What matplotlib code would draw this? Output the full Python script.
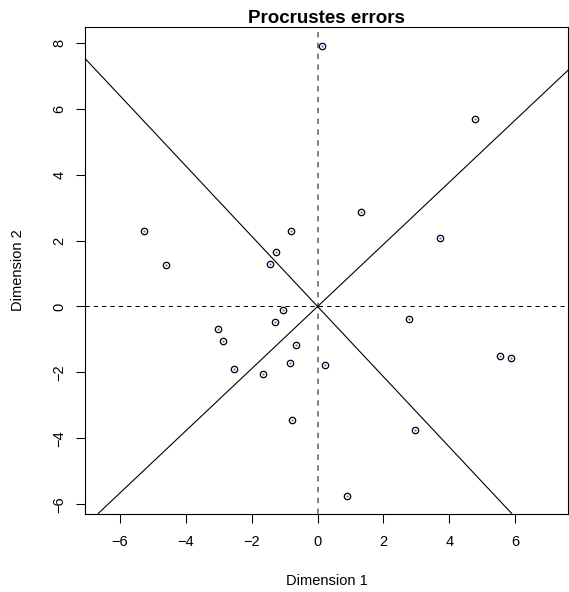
import matplotlib
matplotlib.use("Agg")
import matplotlib.pyplot as plt

plt.rcParams['font.family'] = ['Liberation Sans', 'DejaVu Sans']

# Data
dim1 = [-5.26, -4.61, -0.81, -1.26, -1.43, -1.04, -1.29, -3.03, -2.87, -0.66,
        -0.84, -2.55, -1.65, 0.12, 4.78, 1.33, 3.72, 2.78, 0.23, 5.54,
        5.88, -0.78, 2.95, 0.88]
dim2 = [2.29, 1.26, 2.29, 1.64, 1.29, -0.10, -0.46, -0.67, -1.06, -1.18,
        -1.72, -1.91, -2.05, 7.90, 5.68, 2.88, 2.09, -0.39, -1.78, -1.49,
        -1.57, -3.45, -3.75, -5.75]
axis_slopes = [0.943, -1.066]
xticks = [-6, -4, -2, 0, 2, 4, 6]
yticks = [-6, -4, -2, 0, 2, 4, 6, 8]

fig = plt.figure(figsize=(5.69, 5.92), dpi=100)
ax = fig.add_axes([85 / 569, 1 - 513.5 / 592, (568 - 85) / 569, (513.5 - 27.3) / 592])

ax.set_xlim(-7.06, 7.6)
ax.set_ylim(-6.28, 8.47)

ax.axhline(0, color='black', lw=0.75, linestyle=(0, (4, 4)), zorder=1)
ax.axvline(0, color='#777777', lw=1.3, linestyle=(0, (3, 3)), zorder=1)
for s in axis_slopes:
    ax.axline((0, 0), slope=s, color='black', lw=0.8, zorder=2)

ax.plot(dim1, dim2, linestyle='none', marker='o', markersize=4.6,
        markerfacecolor='none', markeredgecolor='black', markeredgewidth=0.9, zorder=3)
ax.plot(dim1, dim2, linestyle='none', marker='o', markersize=1.6,
        markerfacecolor='#6a6aff', markeredgecolor='none', zorder=4)

ax.set_xticks(xticks)
ax.set_yticks(yticks)
ax.set_xticklabels(['\u2212' + str(-t) if t < 0 else str(t) for t in xticks])
ax.set_yticklabels(['\u2212' + str(-t) if t < 0 else str(t) for t in yticks],
                   rotation=90, va='center')
ax.tick_params(axis='both', direction='out', length=6.5, width=0.75, labelsize=10.5)
ax.tick_params(axis='x', pad=9)
ax.tick_params(axis='y', pad=7)
for sp in ax.spines.values():
    sp.set_linewidth(0.8)

ax.set_xlabel('Dimension 1', fontsize=10.5)
ax.set_ylabel('Dimension 2', fontsize=10.5)
ax.xaxis.set_label_coords(0.5, -0.138)
ax.yaxis.set_label_coords(-0.139, 0.5)
ax.xaxis.label.set_va('center')
ax.yaxis.label.set_va('center')

ax.set_title('Procrustes errors', fontsize=13.5, fontweight='bold', pad=3)

fig.savefig('out.png', dpi=100)
